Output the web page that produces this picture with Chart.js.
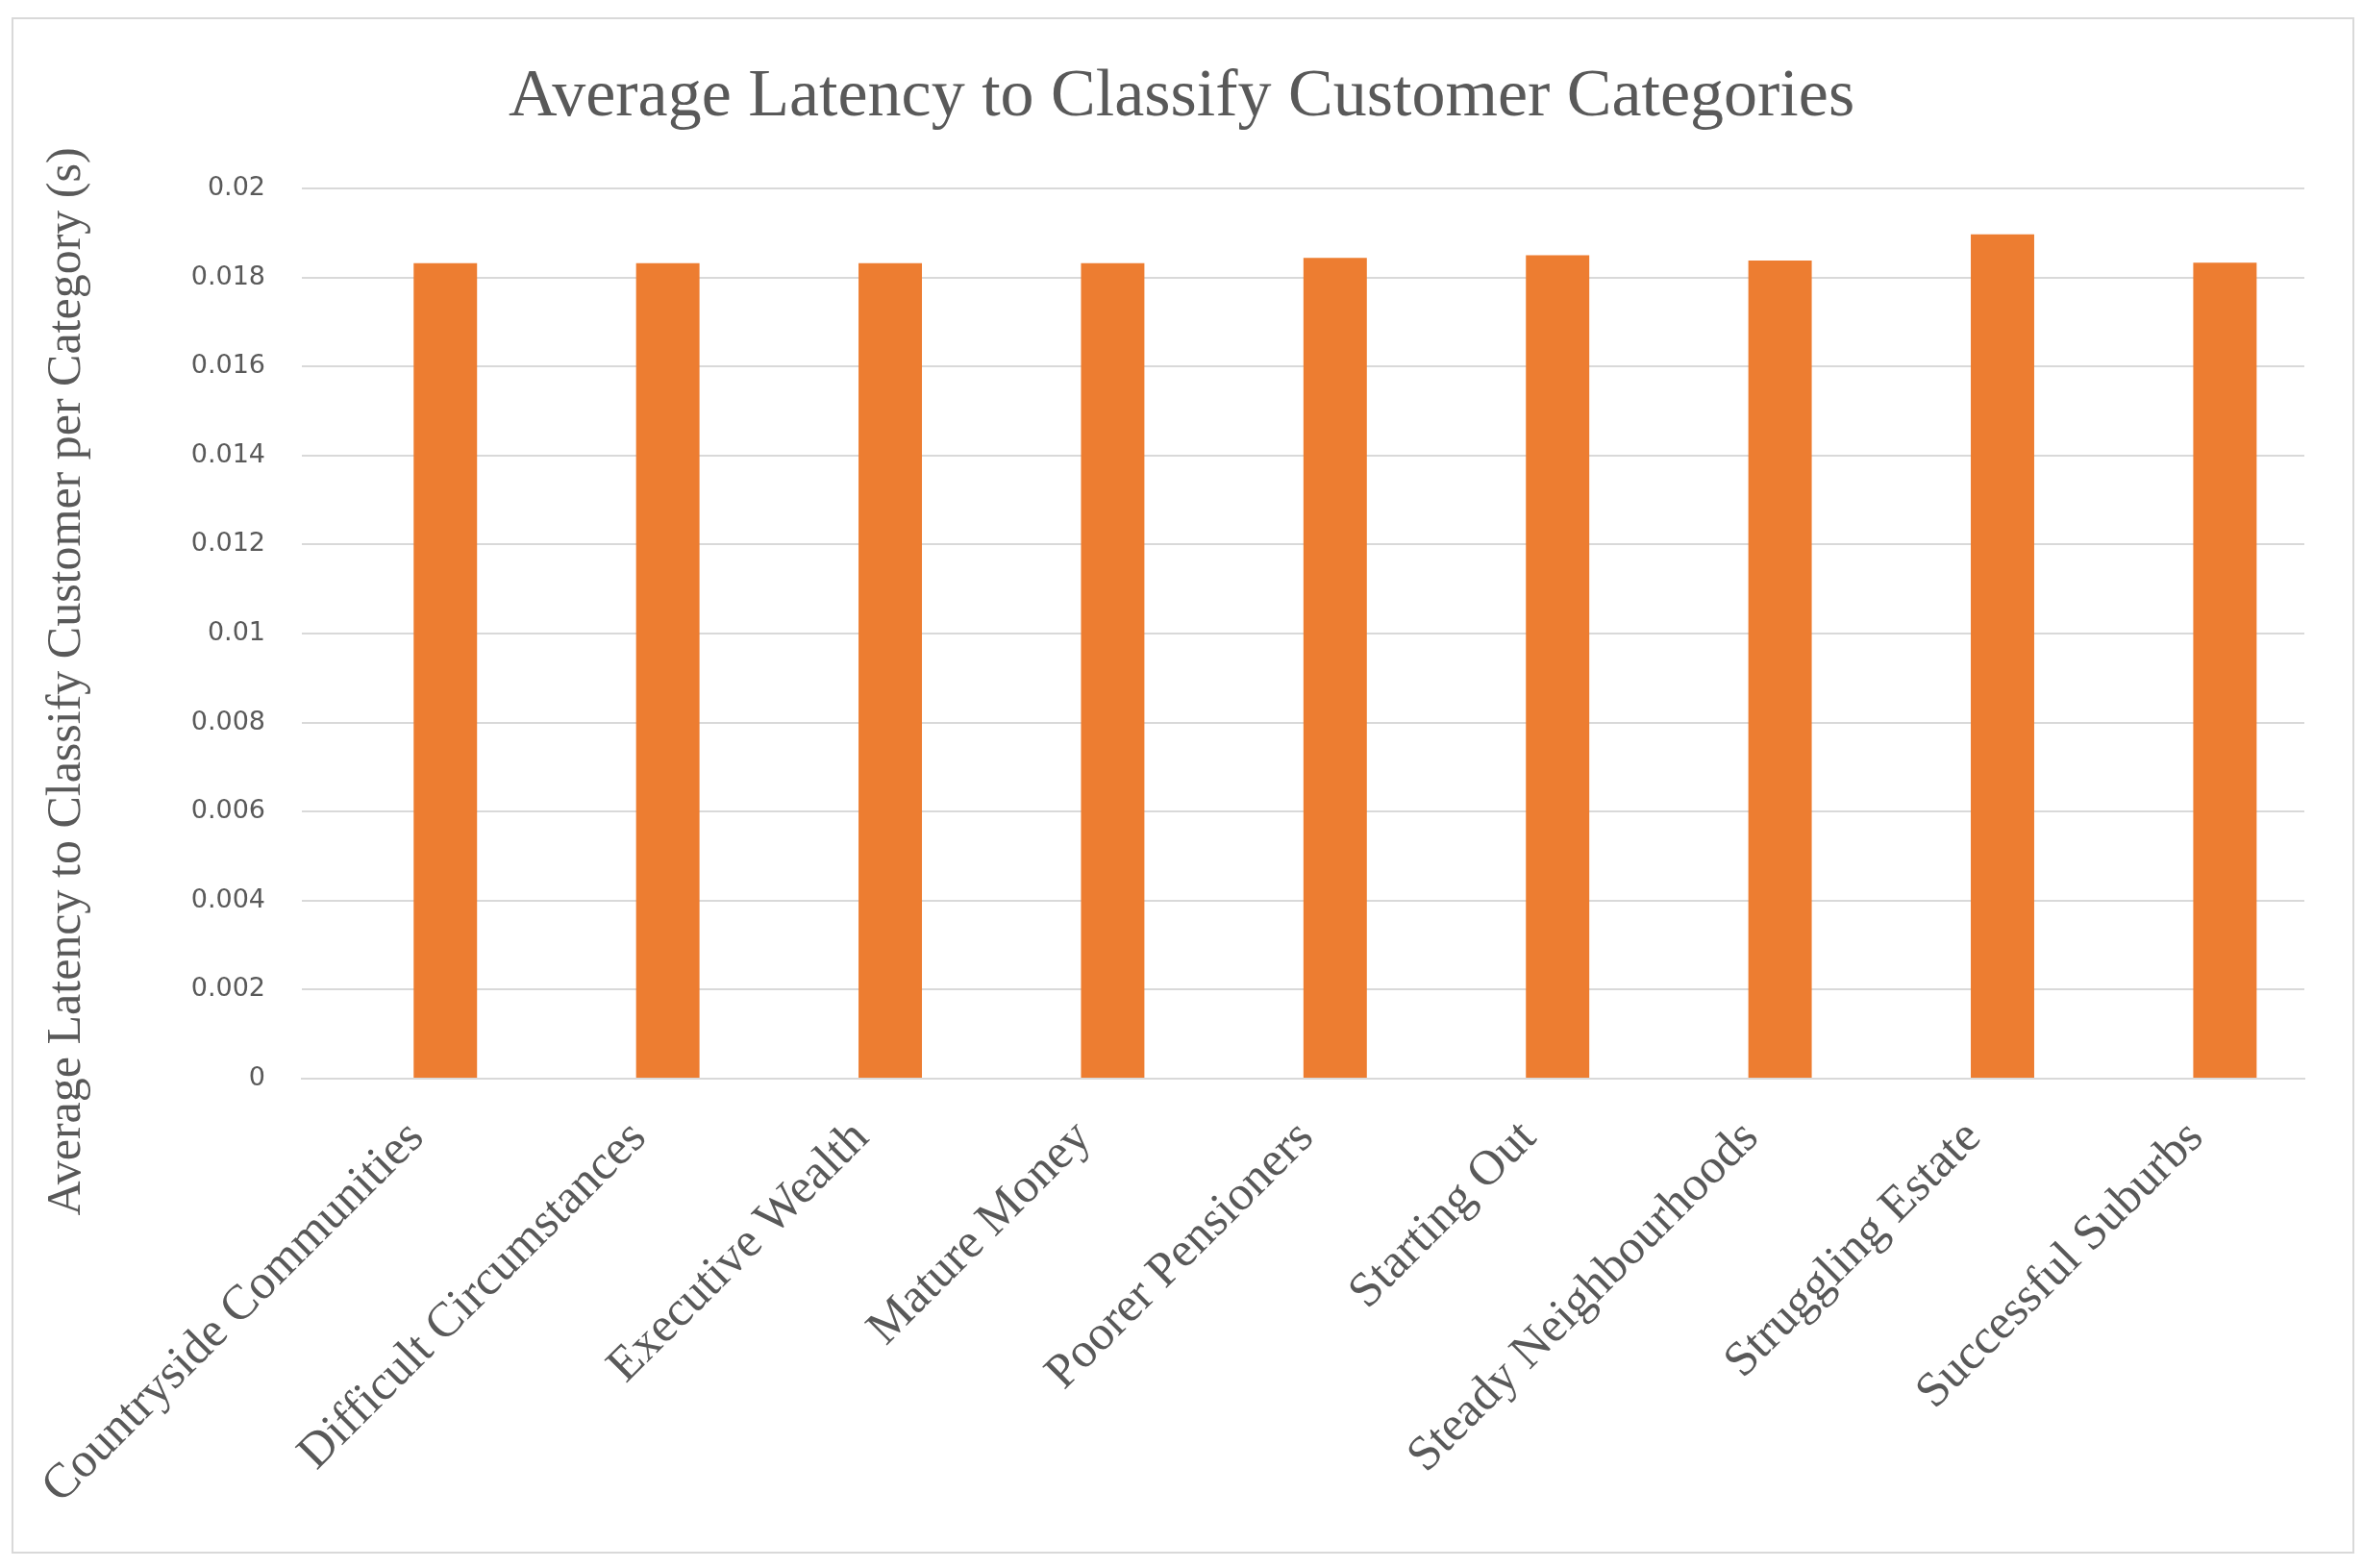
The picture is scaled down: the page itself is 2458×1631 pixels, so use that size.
<!DOCTYPE html>
<html>
<head>
<meta charset="utf-8">
<script src="https://cdn.jsdelivr.net/npm/chart.js@4.4.1/dist/chart.umd.min.js"></script>
<style>
  html, body { margin: 0; padding: 0; background: #fff; }
  #wrap { width: 2458px; height: 1631px; position: relative; }
</style>
</head>
<body>
<div id="wrap"><canvas id="latencyChart" width="2458" height="1631"></canvas></div>
<script>
const categories = [
  'Countryside Communities',
  'Difficult Circumstances',
  'Executive Wealth',
  'Mature Money',
  'Poorer Pensioners',
  'Starting Out',
  'Steady Neighbourhoods',
  'Struggling Estate',
  'Successful Suburbs'
];
const latency = [0.01832, 0.01832, 0.01832, 0.01832, 0.01844, 0.0185, 0.01838, 0.01897, 0.01833];
const yTickLabels = ['0', '0.002', '0.004', '0.006', '0.008', '0.01', '0.012', '0.014', '0.016', '0.018', '0.02'];
const yTitle = 'Average Latency to Classify Customer per Category (s)';

const textGray = '#595959';
const lineGray = '#d9d9d9';
const serif = "'Liberation Serif', 'DejaVu Serif', serif";

// white page, thin frame, and the rotated y axis title
const framePlugin = {
  id: 'frame',
  beforeDraw(chart) {
    const ctx = chart.ctx;
    ctx.save();
    ctx.fillStyle = '#fff';
    ctx.fillRect(0, 0, chart.width, chart.height);
    ctx.strokeStyle = lineGray;
    ctx.lineWidth = 2;
    ctx.strokeRect(13, 19, 2435, 1596);
    ctx.restore();
  },
  afterDraw(chart) {
    const ctx = chart.ctx;
    ctx.save();
    ctx.translate(70, 709);
    ctx.rotate(-Math.PI / 2);
    ctx.fillStyle = textGray;
    ctx.font = "50px " + serif;
    ctx.textAlign = 'center';
    ctx.textBaseline = 'middle';
    ctx.fillText(yTitle, 0, 0);
    ctx.restore();
  }
};

new Chart(document.getElementById('latencyChart'), {
  type: 'bar',
  data: {
    datasets: [{
      data: latency.map((v, i) => ({ x: i, y: v })),
      backgroundColor: '#ed7d31',
      borderWidth: 0,
      barPercentage: 0.285,
      categoryPercentage: 1
    }]
  },
  options: {
    responsive: false,
    animation: false,
    layout: { padding: { left: 61, right: 61, top: 0, bottom: 20 } },
    plugins: {
      legend: { display: false },
      tooltip: { enabled: false },
      title: {
        display: true,
        text: 'Average Latency to Classify Customer Categories',
        color: textGray,
        font: { family: serif, size: 70, weight: 'normal' },
        padding: { top: 60, bottom: 52 }
      }
    },
    scales: {
      x: {
        type: 'linear',
        offset: false,
        min: -0.645,
        max: 8.357,
        grid: { display: false, drawTicks: false },
        border: { display: true, color: lineGray, width: 2 },
        afterBuildTicks: (scale) => {
          scale.ticks = categories.map((c, i) => ({ value: i }));
        },
        ticks: {
          color: textGray,
          font: { family: serif, size: 51 },
          minRotation: 45,
          maxRotation: 45,
          padding: 32,
          labelOffset: -30,
          autoSkip: false,
          callback: (value) => categories[value] || ''
        },
        afterFit: (scale) => { scale.height = 489; }
      },
      y: {
        min: 0,
        max: 0.02,
        grid: { color: lineGray, lineWidth: 2, drawTicks: false },
        border: { display: false },
        ticks: {
          stepSize: 0.002,
          color: textGray,
          font: { family: "'DejaVu Sans', sans-serif", size: 27 },
          padding: 38,
          callback: (value, index) => yTickLabels[index]
        },
        afterFit: (scale) => { scale.width = 253; }
      }
    }
  },
  plugins: [framePlugin]
});
</script>
</body>
</html>
